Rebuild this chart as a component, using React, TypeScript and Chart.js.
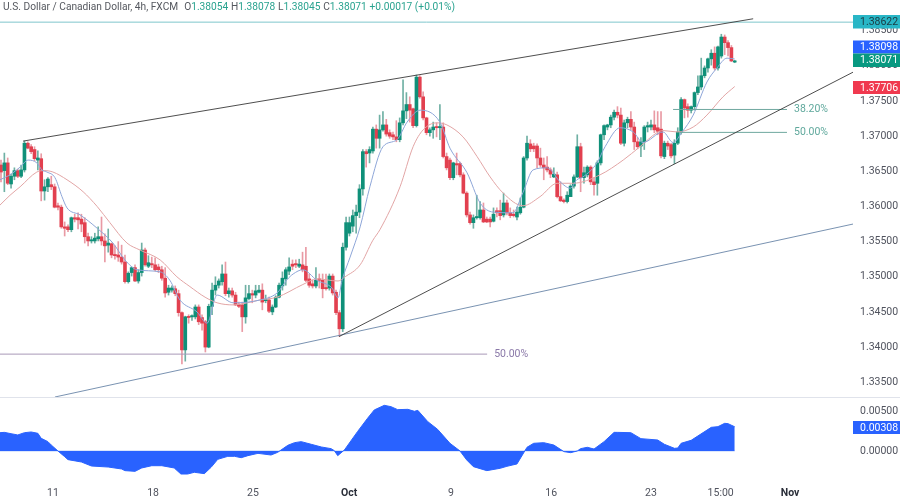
import React, { useEffect, useRef } from "react";
import { Chart, registerables } from "chart.js";
Chart.register(...registerables);

const opens = [1.3659,1.3651,1.3662,1.3632,1.3643,1.3651,1.3643,1.3652,1.3690,1.3685,
1.3681,1.3666,1.3668,1.3622,1.3628,1.3631,1.3628,1.3601,1.3599,1.3571,
1.3571,1.3567,1.3584,1.3584,1.3582,1.3577,1.3557,1.3551,1.3551,1.3554,
1.3557,1.3551,1.3545,1.3547,1.3531,1.3531,1.3528,1.3521,1.3493,1.3506,
1.3513,1.3494,1.3506,1.3538,1.3515,1.3518,1.3517,1.3514,1.3510,1.3498,
1.3478,1.3481,1.3483,1.3476,1.3449,1.3396,1.3443,1.3443,1.3443,1.3457,
1.3442,1.3436,1.3400,1.3458,1.3481,1.3488,1.3493,1.3504,1.3476,1.3480,
1.3474,1.3461,1.3460,1.3443,1.3469,1.3476,1.3474,1.3478,1.3481,1.3466,
1.3467,1.3450,1.3457,1.3471,1.3487,1.3497,1.3508,1.3518,1.3518,1.3515,
1.3517,1.3515,1.3497,1.3490,1.3487,1.3497,1.3495,1.3484,1.3484,1.3501,
1.3478,1.3449,1.3426,1.3542,1.3562,1.3572,1.3587,1.3592,1.3625,1.3678,
1.3676,1.3679,1.3710,1.3697,1.3709,1.3716,1.3705,1.3702,1.3699,1.3695,
1.3719,1.3736,1.3745,1.3739,1.3715,1.3784,1.3756,1.3726,1.3705,1.3709,
1.3713,1.3712,1.3713,1.3671,1.3666,1.3641,1.3661,1.3661,1.3645,1.3619,
1.3588,1.3577,1.3584,1.3584,1.3595,1.3582,1.3582,1.3579,1.3594,1.3594,
1.3588,1.3605,1.3591,1.3589,1.3585,1.3591,1.3599,1.3669,1.3689,1.3686,
1.3686,1.3669,1.3659,1.3656,1.3652,1.3642,1.3645,1.3614,1.3609,1.3607,
1.3614,1.3629,1.3642,1.3685,1.3641,1.3645,1.3656,1.3635,1.3633,1.3662,
1.3702,1.3713,1.3716,1.3727,1.3734,1.3730,1.3690,1.3719,1.3724,1.3713,
1.3692,1.3686,1.3692,1.3713,1.3713,1.3716,1.3712,1.3710,1.3671,1.3690,
1.3688,1.3673,1.3690,1.3706,1.3752,1.3742,1.3737,1.3742,1.3762,1.3770,
1.3786,1.3797,1.3810,1.3818,1.3797,1.3814,1.3841,1.3833,1.3826,1.38054];

const closes = [1.3649,1.3662,1.3633,1.3643,1.3651,1.3643,1.3652,1.3690,1.3683,1.3678,
1.3668,1.3669,1.3622,1.3628,1.3639,1.3628,1.3599,1.3599,1.3571,1.3569,
1.3567,1.3584,1.3582,1.3581,1.3575,1.3557,1.3551,1.3552,1.3555,1.3557,
1.3551,1.3544,1.3548,1.3531,1.3530,1.3528,1.3521,1.3493,1.3505,1.3513,
1.3494,1.3506,1.3538,1.3517,1.3520,1.3517,1.3510,1.3510,1.3498,1.3477,
1.3484,1.3484,1.3476,1.3449,1.3396,1.3443,1.3442,1.3444,1.3457,1.3436,
1.3434,1.3400,1.3458,1.3481,1.3488,1.3494,1.3504,1.3476,1.3480,1.3474,
1.3460,1.3458,1.3443,1.3470,1.3476,1.3474,1.3480,1.3481,1.3464,1.3467,
1.3451,1.3457,1.3471,1.3488,1.3498,1.3510,1.3514,1.3515,1.3517,1.3518,
1.3510,1.3495,1.3488,1.3487,1.3495,1.3495,1.3483,1.3483,1.3501,1.3477,
1.3449,1.3426,1.3542,1.3577,1.3577,1.3587,1.3592,1.3625,1.3678,1.3675,
1.3681,1.3710,1.3697,1.3709,1.3716,1.3703,1.3700,1.3699,1.3695,1.3719,
1.3736,1.3745,1.3737,1.3715,1.3784,1.3756,1.3726,1.3705,1.3709,1.3713,
1.3712,1.3713,1.3671,1.3655,1.3641,1.3662,1.3659,1.3645,1.3619,1.3588,
1.3577,1.3584,1.3585,1.3595,1.3578,1.3578,1.3578,1.3589,1.3591,1.3587,
1.3605,1.3591,1.3587,1.3587,1.3592,1.3599,1.3669,1.3690,1.3682,1.3682,
1.3669,1.3659,1.3655,1.3652,1.3646,1.3646,1.3614,1.3608,1.3607,1.3616,
1.3629,1.3642,1.3685,1.3641,1.3648,1.3656,1.3635,1.3631,1.3662,1.3702,
1.3715,1.3716,1.3727,1.3734,1.3730,1.3690,1.3719,1.3724,1.3713,1.3692,
1.3685,1.3692,1.3713,1.3715,1.3716,1.3709,1.3707,1.3672,1.3690,1.3686,
1.3672,1.3690,1.3706,1.3752,1.3740,1.3737,1.3742,1.3762,1.3770,1.3786,
1.3797,1.3810,1.3818,1.3797,1.3827,1.3841,1.3833,1.3826,1.3807,1.38071];

const highs = [1.3666,1.3676,1.3669,1.3646,1.3655,1.3653,1.3659,1.3693,1.3692,1.3688,
1.3685,1.3679,1.3675,1.3638,1.3641,1.3643,1.3632,1.3605,1.3602,1.3578,
1.3574,1.3585,1.3589,1.3591,1.3589,1.3584,1.3562,1.3557,1.3562,1.3571,
1.3585,1.3561,1.3568,1.3548,1.3544,1.3550,1.3545,1.3531,1.3507,1.3514,
1.3517,1.3510,1.3548,1.3541,1.3530,1.3528,1.3527,1.3518,1.3515,1.3513,
1.3488,1.3487,1.3487,1.3481,1.3450,1.3444,1.3446,1.3446,1.3460,1.3460,
1.3446,1.3438,1.3461,1.3491,1.3500,1.3497,1.3517,1.3521,1.3484,1.3484,
1.3478,1.3464,1.3464,1.3488,1.3488,1.3481,1.3488,1.3488,1.3490,1.3474,
1.3471,1.3460,1.3473,1.3491,1.3507,1.3513,1.3527,1.3524,1.3524,1.3525,
1.3535,1.3542,1.3504,1.3495,1.3513,1.3504,1.3504,1.3504,1.3504,1.3504,
1.3481,1.3452,1.3548,1.3585,1.3585,1.3595,1.3602,1.3631,1.3681,1.3681,
1.3685,1.3713,1.3716,1.3730,1.3735,1.3724,1.3709,1.3706,1.3722,1.3726,
1.3780,1.3762,1.3756,1.3740,1.3787,1.3786,1.3763,1.3727,1.3712,1.3720,
1.3719,1.3745,1.3719,1.3676,1.3669,1.3663,1.3676,1.3663,1.3648,1.3621,
1.3592,1.3588,1.3616,1.3607,1.3605,1.3585,1.3585,1.3598,1.3598,1.3609,
1.3619,1.3609,1.3598,1.3595,1.3599,1.3612,1.3671,1.3700,1.3695,1.3690,
1.3689,1.3683,1.3669,1.3671,1.3655,1.3655,1.3649,1.3635,1.3611,1.3621,
1.3631,1.3645,1.3702,1.3690,1.3656,1.3658,1.3658,1.3641,1.3665,1.3703,
1.3716,1.3717,1.3730,1.3737,1.3742,1.3740,1.3723,1.3727,1.3735,1.3720,
1.3698,1.3698,1.3715,1.3720,1.3723,1.3736,1.3735,1.3735,1.3693,1.3693,
1.3690,1.3695,1.3712,1.3755,1.3753,1.3746,1.3743,1.3763,1.3786,1.3811,
1.3800,1.3811,1.3823,1.3827,1.3828,1.3845,1.3844,1.3836,1.3829,1.38078];

const lows = [1.3635,1.3621,1.3631,1.3626,1.3638,1.3641,1.3641,1.3649,1.3682,1.3675,
1.3665,1.3652,1.3608,1.3609,1.3621,1.3624,1.3598,1.3595,1.3569,1.3558,
1.3564,1.3564,1.3578,1.3568,1.3564,1.3548,1.3544,1.3548,1.3548,1.3551,
1.3545,1.3521,1.3535,1.3527,1.3525,1.3522,1.3518,1.3491,1.3491,1.3501,
1.3493,1.3491,1.3501,1.3515,1.3513,1.3513,1.3508,1.3506,1.3495,1.3471,
1.3474,1.3478,1.3473,1.3444,1.3376,1.3380,1.3434,1.3438,1.3440,1.3432,
1.3424,1.3393,1.3399,1.3446,1.3474,1.3484,1.3488,1.3473,1.3471,1.3471,
1.3459,1.3456,1.3422,1.3434,1.3467,1.3463,1.3470,1.3477,1.3453,1.3463,
1.3449,1.3446,1.3456,1.3470,1.3481,1.3488,1.3503,1.3510,1.3513,1.3513,
1.3507,1.3493,1.3485,1.3484,1.3484,1.3484,1.3470,1.3481,1.3481,1.3474,
1.3446,1.3415,1.3422,1.3538,1.3558,1.3564,1.3562,1.3584,1.3616,1.3656,
1.3662,1.3676,1.3683,1.3683,1.3707,1.3700,1.3697,1.3695,1.3692,1.3692,
1.3716,1.3725,1.3720,1.3712,1.3713,1.3754,1.3723,1.3702,1.3700,1.3697,
1.3699,1.3695,1.3669,1.3652,1.3638,1.3638,1.3645,1.3642,1.3618,1.3585,
1.3575,1.3569,1.3582,1.3582,1.3577,1.3577,1.3571,1.3578,1.3585,1.3581,
1.3585,1.3588,1.3584,1.3585,1.3581,1.3589,1.3598,1.3666,1.3678,1.3678,
1.3655,1.3656,1.3638,1.3649,1.3641,1.3641,1.3612,1.3607,1.3605,1.3605,
1.3614,1.3626,1.3641,1.3621,1.3633,1.3642,1.3631,1.3616,1.3616,1.3659,
1.3695,1.3709,1.3712,1.3723,1.3726,1.3688,1.3686,1.3712,1.3709,1.3681,
1.3682,1.3671,1.3681,1.3706,1.3709,1.3705,1.3702,1.3669,1.3668,1.3681,
1.3669,1.3661,1.3688,1.3703,1.3726,1.3727,1.3733,1.3737,1.3759,1.3766,
1.3783,1.3791,1.3801,1.3794,1.3794,1.3811,1.3816,1.3814,1.3806,1.38045];

const fastIdx = [-0.3,2.7,5.7,8.1,10.7,12.2,13.7,16.1,18.2,19.7,23.6,28.7,33.4,37,40.6,47.5,50.4,53.4,58.5,61.5,64.5,69.3,77.3,82.4,85.4,87.2,90.1,94.3,98.8,100.6,101.8,104.2,107.2,110.1,114,118.2,121.2,125.1,131,134,139.1,143,146.9,152.8,155.8,158.8,163,166.9,169.9,171.9,173.7,177.9,180.3,184.8,188.7,191.6,197.6,200.6,203.3,206.6,210.7,213.7,216.7,219];
const fastVals = [1.3638,1.3645,1.3656,1.3666,1.3662,1.3652,1.3649,1.3641,1.3614,1.3598,1.3588,1.3569,1.3548,1.3524,1.3510,1.3507,1.3495,1.3467,1.3450,1.3434,1.3474,1.3463,1.3467,1.3477,1.3496,1.3504,1.3510,1.3495,1.3484,1.3470,1.3495,1.3528,1.3571,1.3628,1.3685,1.3695,1.3720,1.3737,1.3720,1.3683,1.3648,1.3605,1.3592,1.3591,1.3620,1.3652,1.3655,1.3635,1.3626,1.3638,1.3642,1.3662,1.3685,1.3712,1.3706,1.3691,1.3706,1.3691,1.3706,1.3730,1.3777,1.3797,1.3811,1.38098];

const slowIdx = [-0.3,2.7,5.7,10.7,13.1,15.5,19.7,24.5,28.7,32.5,37.6,41.5,47.5,52.5,56.4,60.9,64.5,69.3,77.3,82.4,90.1,94.3,100.6,102.7,107.2,111,113.1,119.1,123,126,130.1,133.1,137.9,142.1,146,149.9,155.8,160.9,166,170.7,178.8,185.7,190.7,195.8,197.6,201.8,206.6,210.7,215.5,219];
const slowVals = [1.3602,1.3616,1.3628,1.3649,1.3651,1.3649,1.3638,1.3621,1.3600,1.3577,1.3548,1.3538,1.3524,1.3500,1.3486,1.3471,1.3463,1.3460,1.3467,1.3471,1.3489,1.3497,1.3494,1.3500,1.3517,1.3552,1.3567,1.3628,1.3685,1.3709,1.3719,1.3716,1.3699,1.3671,1.3642,1.3619,1.3601,1.3614,1.3633,1.3633,1.3645,1.3666,1.3685,1.3705,1.3708,1.3706,1.3713,1.3730,1.3756,1.37706];

const oscIdx = [-0.3,1,3,5,7,9,11,12,14,15,17,19,20,24,27,32,36,37,40,42,45,48,51.7,53.7,55.7,57.7,60.7,62.7,64.7,67.7,69.7,71.7,73.7,76.7,80.6,82.6,85.6,87.6,89.6,92.6,95.6,98.5,99.5,100.5,102.5,106.4,109.4,111.4,114.4,116.4,118.4,121.4,123.4,124.4,127.4,130.3,134,137,139,141,145,149,151,154,157,159,162,165,168,170,172,173,175,177,180,183,184,188,191,196,198,201,202,203,206,212,214,216,217,219];
const oscVals = [0.00233,0.00237,0.0022,0.00204,0.00233,0.00242,0.00225,0.00161,0.00119,0.00076,0,-0.00072,-0.0011,-0.0014,-0.00191,-0.00204,-0.00229,-0.0025,-0.00259,-0.00216,-0.00187,-0.00187,-0.00216,-0.00293,-0.00293,-0.00271,-0.00288,-0.00208,-0.00106,-0.00068,-0.00068,-0.00085,-0.00059,-0.0003,-0.00051,-0.00017,0.00072,0.00106,0.00119,0.00085,0.00051,0.0003,0.00004,-0.00059,0.00013,0.00246,0.00416,0.00522,0.00581,0.00564,0.00526,0.0053,0.00505,0.00517,0.00373,0.00276,0.00098,0,-0.00114,-0.00199,-0.0025,-0.0022,-0.00195,-0.00165,0.00047,0.00098,0.00106,0.00076,-0.00008,-0.00021,0,0.0003,0.00047,0.00025,0.00119,0.00237,0.00237,0.00233,0.00157,0.0014,0.00085,0.00034,0.00038,0.00098,0.00136,0.00301,0.0031,0.00352,0.00348,0.00308];

const resistanceX = [6.6, 224.5];
const resistanceY = [1.3693, 1.3867];
const supportX = [100.9, 254.3];
const supportY = [1.3415, 1.3791];
const longTrendX = [16.1, 254.3];
const longTrendY = [1.3329, 1.3575];
const topLevelX = [-0.3, 254.3];
const topLevelY = [1.38622, 1.38622];
const fibMidX = [-0.3, 145.1];
const fibMidY = [1.339, 1.339];
const fib382X = [200.6, 234.6];
const fib382Y = [1.3738, 1.3738];
const fib500X = [202.7, 234.6];
const fib500Y = [1.37054, 1.37054];

const priceTicks = [1.335,1.34,1.345,1.35,1.355,1.36,1.365,1.37,1.375,1.38,1.385];
const oscTicks = [0, 0.005];
const timeTickPos = [15.5,45.4,75.2,103.9,134.3,164.2,194,214.8,235.5];
const timeTickLabels = ["11","18","25","Oct","9","16","23","15:00","Nov"];
const boldTimeLabels = ["Oct","Nov"];
const headerName = "U.S. Dollar / Canadian Dollar, 4h, FXCM";
const headerParts = [["O","1.38054"],["H","1.38078"],["L","1.38045"],["C","1.38071"]];
const headerChange = "+0.00017 (+0.01%)";

const FONT = "Roboto, 'Noto Sans', sans-serif";
const UP = "#0f9079";
const DOWN = "#e2404f";
const UP_WICK = "#6fb0a4";
const DOWN_WICK = "#e99aa4";
const XMIN = -0.3;
const XMAX = 254.3;

const zip = (xs: number[], ys: number[]) => xs.map((x, i) => ({ x, y: ys[i] }));
const segment = (xs: number[], ys: number[], color: string, width: number, order: number) => ({
  type: "line" as const, data: zip(xs, ys), borderColor: color, borderWidth: width,
  pointRadius: 0, order, tension: 0,
});
const curve = (xs: number[], ys: number[], color: string, order: number) => ({
  type: "line" as const, data: zip(xs, ys), borderColor: color, borderWidth: 1,
  pointRadius: 0, order, cubicInterpolationMode: "monotone" as const,
});
const isUp = (i: number) => closes[i] >= opens[i];
const bars = (want: boolean, wick: boolean) => {
  const out: any[] = [];
  opens.forEach((o, i) => {
    if (isUp(i) !== want) return;
    out.push({ x: i, y: wick ? [lows[i], highs[i]] : [o, closes[i]] });
  });
  return {
    type: "bar" as const, data: out, grouped: false, borderWidth: 0, minBarLength: wick ? 0 : 1.2,
    barThickness: wick ? 1 : 3, backgroundColor: wick ? (want ? UP_WICK : DOWN_WICK) : (want ? UP : DOWN),
    order: wick ? 9 : 8,
  };
};

const tag = (ctx: any, text: string, top: number, h: number, bg: string, fg: string) => {
  ctx.fillStyle = bg;
  ctx.fillRect(853, top, 47, h);
  ctx.fillStyle = fg;
  ctx.font = `10.5px ${FONT}`;
  ctx.textAlign = "left";
  ctx.textBaseline = "middle";
  ctx.fillText(text, 860, top + h / 2 + 0.5);
};

const mainOverlay = {
  id: "mainOverlay",
  afterDraw(chart: any) {
    const { ctx, scales } = chart;
    const px = (v: number) => scales.x.getPixelForValue(v);
    const py = (v: number) => scales.y.getPixelForValue(v);
    ctx.save();
    ctx.textBaseline = "middle";
    ctx.textAlign = "left";
    ctx.font = `10.5px ${FONT}`;
    ctx.fillStyle = "#8a78a8";
    ctx.fillText("50.00%", px(fibMidX[1]) + 7, py(fibMidY[0]));
    ctx.fillStyle = "#5fa89c";
    ctx.fillText("38.20%", px(fib382X[1]) + 7, py(fib382Y[0]));
    ctx.fillText("50.00%", px(fib500X[1]) + 7, py(fib500Y[0]));

    tag(ctx, "1.38622", 15, 13.5, "#29b6c6", "#1b3a40");
    tag(ctx, "1.38098", 40.5, 13, "#2962ff", "#ffffff");
    tag(ctx, "1.38071", 53.5, 13.5, "#089981", "#ffffff");
    tag(ctx, "1.37706", 81, 13, "#f0394f", "#ffffff");

    ctx.textAlign = "left";
    ctx.textBaseline = "middle";
    ctx.font = `10.2px ${FONT}`;
    let x = 3;
    ctx.fillStyle = "#55585f";
    ctx.fillText(headerName, x, 7);
    x += ctx.measureText(headerName).width + 6;
    headerParts.forEach(([k, v]) => {
      ctx.fillStyle = "#55585f";
      ctx.fillText(k, x, 7);
      x += ctx.measureText(k).width;
      ctx.fillStyle = "#2aa390";
      ctx.fillText(v, x, 7);
      x += ctx.measureText(v).width + 2.7;
    });
    ctx.fillStyle = "#2aa390";
    ctx.fillText(headerChange, x, 7);
    ctx.restore();
  },
};

const oscOverlay = {
  id: "oscOverlay",
  afterDraw(chart: any) {
    const { ctx } = chart;
    ctx.save();
    ctx.strokeStyle = "#e0e3eb";
    ctx.lineWidth = 1;
    ctx.beginPath();
    ctx.moveTo(0, 0.5);
    ctx.lineTo(900, 0.5);
    ctx.stroke();
    tag(ctx, "0.00308", 24, 13, "#2962ff", "#ffffff");
    ctx.restore();
  },
};

const commonX = {
  type: "linear" as const, min: XMIN, max: XMAX, offset: false,
  grid: { display: false, drawTicks: false }, border: { display: false },
};
const fitY = (s: any) => { s.width = 47; s.paddingTop = 0; s.paddingBottom = 0; };

export default function App() {
  const mainRef = useRef<HTMLCanvasElement>(null);
  const oscRef = useRef<HTMLCanvasElement>(null);
  useEffect(() => {
    const main = new Chart(mainRef.current!, {
      type: "bar",
      data: {
        datasets: [
          bars(true, true), bars(false, true), bars(true, false), bars(false, false),
          curve(slowIdx, slowVals, "#e2a5a5", 6),
          curve(fastIdx, fastVals, "#8ea6d8", 5),
          segment(resistanceX, resistanceY, "#3a3a3a", 0.9, 3),
          segment(supportX, supportY, "#3a3a3a", 0.9, 3),
          segment(longTrendX, longTrendY, "#6a86a8", 0.9, 3),
          segment(topLevelX, topLevelY, "#7fc6cc", 1, 3),
          segment(fibMidX, fibMidY, "#a899b8", 1, 3),
          segment(fib382X, fib382Y, "#6fa89f", 1, 3),
          segment(fib500X, fib500Y, "#6fa89f", 1, 3),
        ] as any,
      },
      options: {
        responsive: false, animation: false, events: [],
        layout: { padding: 0, autoPadding: false },
        plugins: { legend: { display: false }, tooltip: { enabled: false }, title: { display: false } },
        scales: {
          x: { ...commonX, display: false },
          y: {
            position: "right", min: 1.3329, max: 1.38937,
            grid: { display: false, drawTicks: false }, border: { display: false },
            afterFit: fitY,
            afterBuildTicks: (s: any) => { s.ticks = priceTicks.map((value) => ({ value })); },
            ticks: {
              padding: 7, color: "#50535e", font: { family: FONT, size: 10.5 },
              callback: (v: any) => Number(v).toFixed(5),
            },
          },
        },
      } as any,
      plugins: [mainOverlay],
    });
    const osc = new Chart(oscRef.current!, {
      type: "line",
      data: {
        datasets: [
          {
            data: zip(oscIdx, oscVals), borderColor: "#2962ff", backgroundColor: "#2962ff", borderWidth: 1,
            fill: "origin", pointRadius: 0, tension: 0, order: 1,
          },
          {
            data: zip([-0.3, 219], [0, 0]), borderColor: "#b7cdf8", borderWidth: 1, pointRadius: 0, order: 2,
          },
        ] as any,
      },
      options: {
        responsive: false, animation: false, events: [],
        layout: { padding: 0, autoPadding: false },
        plugins: { legend: { display: false }, tooltip: { enabled: false } },
        scales: {
          x: {
            ...commonX,
            afterFit: (s: any) => { s.height = 16; },
            afterBuildTicks: (s: any) => { s.ticks = timeTickPos.map((value) => ({ value })); },
            ticks: {
              padding: 3, autoSkip: false, maxRotation: 0,
              color: (c: any) => (boldTimeLabels.includes(timeTickLabels[c.index]) ? "#2a2e39" : "#50535e"),
              font: (c: any) => ({
                family: FONT, size: 10.5,
                weight: boldTimeLabels.includes(timeTickLabels[c.index]) ? "bold" : "normal",
              }),
              callback: (_: any, i: number) => timeTickLabels[i],
            },
          },
          y: {
            position: "right", min: -0.0042, max: 0.00687,
            grid: { display: false, drawTicks: false }, border: { display: false },
            afterFit: fitY,
            afterBuildTicks: (s: any) => { s.ticks = oscTicks.map((value) => ({ value })); },
            ticks: {
              padding: 7, color: "#50535e", font: { family: FONT, size: 10.5 },
              callback: (v: any) => Number(v).toFixed(5),
            },
          },
        },
      } as any,
      plugins: [oscOverlay],
    });
    return () => { main.destroy(); osc.destroy(); };
  }, []);
  return (
    <div style={{ position: "fixed", left: 0, top: 0, width: 900, height: 500, background: "#fff", overflow: "hidden" }}>
      <canvas ref={mainRef} width={900} height={397} style={{ position: "absolute", left: 0, top: 0, display: "block" }} />
      <canvas ref={oscRef} width={900} height={103} style={{ position: "absolute", left: 0, top: 397, display: "block" }} />
    </div>
  );
}
